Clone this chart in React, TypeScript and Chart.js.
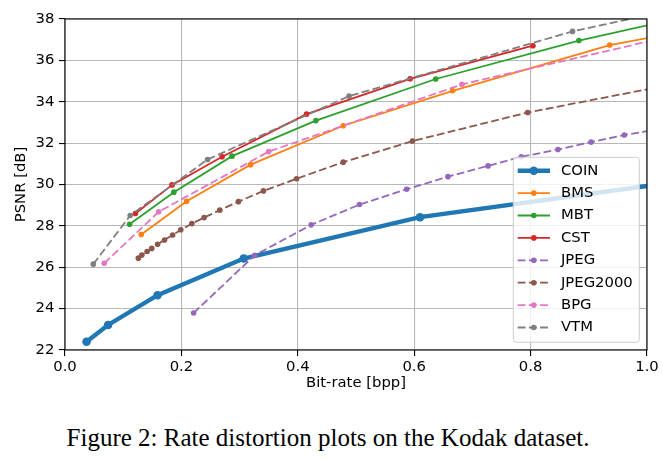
import React, { useEffect, useRef } from 'react';
import { Chart, registerables } from 'chart.js';

Chart.register(...registerables);

// ---- data ----
const xTicks = [0, 0.2, 0.4, 0.6, 0.8, 1.0];
const yTicks = [22, 24, 26, 28, 30, 32, 34, 36, 38];

const coinX = [0.037, 0.074, 0.159, 0.307, 0.61, 1.2];
const coinY = [22.4, 23.21, 24.65, 26.42, 28.42, 30.7];

const bmsX = [0.131, 0.209, 0.319, 0.478, 0.666, 0.936, 1.25];
const bmsY = [27.58, 29.19, 30.96, 32.84, 34.53, 36.74, 38.4];

const mbtX = [0.111, 0.187, 0.287, 0.431, 0.637, 0.883, 1.2];
const mbtY = [28.08, 29.63, 31.37, 33.09, 35.1, 36.96, 38.95];

const cstX = [0.121, 0.184, 0.27, 0.415, 0.593, 0.804];
const cstY = [28.6, 29.98, 31.34, 33.4, 35.11, 36.71];

const jpegX = [0.221, 0.326, 0.423, 0.506, 0.587, 0.658, 0.727, 0.784, 0.847, 0.904, 0.961, 1.03];
const jpegY = [23.79, 26.58, 28.05, 29.03, 29.77, 30.38, 30.9, 31.34, 31.69, 32.05, 32.39, 32.72];

const j2kX = [0.126, 0.132, 0.141, 0.149, 0.159, 0.171, 0.185, 0.199, 0.218, 0.239, 0.266, 0.298, 0.341, 0.398, 0.478, 0.597, 0.795, 1.19];
const j2kY = [26.44, 26.59, 26.76, 26.91, 27.11, 27.32, 27.56, 27.81, 28.11, 28.4, 28.76, 29.17, 29.69, 30.28, 31.08, 32.1, 33.48, 35.64];

const bpgX = [0.0674, 0.161, 0.35, 0.682, 1.3];
const bpgY = [26.19, 28.68, 31.59, 34.84, 38.85];

const vtmX = [0.0486, 0.112, 0.245, 0.488, 0.872, 1.3];
const vtmY = [26.15, 28.5, 31.21, 34.27, 37.4, 40.0];

const seriesNames = ['COIN', 'BMS', 'MBT', 'CST', 'JPEG', 'JPEG2000', 'BPG', 'VTM'];
const seriesX = [coinX, bmsX, mbtX, cstX, jpegX, j2kX, bpgX, vtmX];
const seriesY = [coinY, bmsY, mbtY, cstY, jpegY, j2kY, bpgY, vtmY];

// ---- styles ----
const colors = ['#1f77b4', '#ff7f0e', '#2ca02c', '#d62728', '#9467bd', '#8c564b', '#e377c2', '#7f7f7f'];
const DASH = [7.8, 3.4];
const widths = [4.4, 1.8, 1.8, 1.8, 1.8, 1.8, 1.8, 1.8];
const dashes = [[], [], [], [], DASH, DASH, DASH, DASH];
const radii = [4.3, 2.8, 2.8, 2.8, 2.8, 2.8, 2.8, 2.8];

const FONT = '"DejaVu Sans"';
const FS = 14.8;

const framePlugin = {
  id: 'frameLegend',
  afterDatasetsDraw(chart: any) {
    const { ctx, chartArea: a } = chart;
    ctx.save();
    // spines
    ctx.strokeStyle = '#000';
    ctx.lineWidth = 1.1;
    ctx.setLineDash([]);
    ctx.strokeRect(a.left, a.top, a.right - a.left, a.bottom - a.top);

    // legend
    const bw = 126;
    const bh = 185;
    const bx = a.right - 7.7 - bw;
    const by = a.bottom - 7.7 - bh;
    const r = 3;
    ctx.beginPath();
    ctx.moveTo(bx + r, by);
    ctx.lineTo(bx + bw - r, by);
    ctx.arcTo(bx + bw, by, bx + bw, by + r, r);
    ctx.lineTo(bx + bw, by + bh - r);
    ctx.arcTo(bx + bw, by + bh, bx + bw - r, by + bh, r);
    ctx.lineTo(bx + r, by + bh);
    ctx.arcTo(bx, by + bh, bx, by + bh - r, r);
    ctx.lineTo(bx, by + r);
    ctx.arcTo(bx, by, bx + r, by, r);
    ctx.closePath();
    ctx.fillStyle = 'rgba(255,255,255,0.8)';
    ctx.fill();
    ctx.strokeStyle = '#cccccc';
    ctx.lineWidth = 1;
    ctx.stroke();

    ctx.font = `${FS}px ${FONT}`;
    ctx.textBaseline = 'middle';
    ctx.textAlign = 'left';
    seriesNames.forEach((name, i) => {
      const cy = by + 13.4 + i * 22.4;
      ctx.beginPath();
      ctx.setLineDash(dashes[i]);
      ctx.lineWidth = widths[i];
      ctx.strokeStyle = colors[i];
      ctx.moveTo(bx + 4.4, cy);
      ctx.lineTo(bx + 36.7, cy);
      ctx.stroke();
      ctx.setLineDash([]);
      ctx.beginPath();
      ctx.fillStyle = colors[i];
      ctx.arc(bx + 20.5, cy, radii[i], 0, Math.PI * 2);
      ctx.fill();
      ctx.fillStyle = '#000';
      ctx.fillText(name, bx + 47.7, cy);
    });
    ctx.restore();
  },
};

export default function App() {
  const ref = useRef<HTMLCanvasElement | null>(null);

  useEffect(() => {
    if (!ref.current) return;
    const datasets = seriesNames.map((name, i) => ({
      label: name,
      data: seriesX[i].map((x, k) => ({ x, y: seriesY[i][k] })),
      borderColor: colors[i],
      backgroundColor: colors[i],
      borderWidth: widths[i],
      borderDash: dashes[i],
      pointRadius: radii[i],
      pointBorderWidth: 0,
      pointBackgroundColor: colors[i],
      pointHoverRadius: radii[i],
      tension: 0,
      fill: false,
      clip: 0,
      order: seriesNames.length - i,
    }));

    const chart = new Chart(ref.current, {
      type: 'line',
      data: { datasets },
      plugins: [framePlugin],
      options: {
        animation: false,
        responsive: false,
        devicePixelRatio: 1,
        layout: { padding: { left: 0, top: 19, right: 16, bottom: 0 } },
        plugins: { legend: { display: false }, tooltip: { enabled: false } },
        scales: {
          x: {
            type: 'linear',
            min: 0,
            max: 1,
            afterBuildTicks: (s: any) => {
              s.ticks = xTicks.map((v) => ({ value: v }));
            },
            afterFit: (s: any) => {
              s.height = 50;
            },
            ticks: {
              autoSkip: false,
              maxRotation: 0,
              padding: 2.5,
              color: '#000',
              font: { family: FONT, size: FS },
              callback: (v: any) => Number(v).toFixed(1),
            },
            grid: { color: '#b8b8b8', lineWidth: 1.1, tickColor: '#000', tickLength: 6, tickWidth: 1.1 },
            border: { display: false },
            title: {
              display: true,
              text: 'Bit-rate [bpp]',
              color: '#000',
              font: { family: FONT, size: FS },
              padding: { top: 0, bottom: 7.5 },
            },
          },
          y: {
            type: 'linear',
            min: 22,
            max: 38,
            afterBuildTicks: (s: any) => {
              s.ticks = yTicks.map((v) => ({ value: v }));
            },
            afterFit: (s: any) => {
              s.width = 65;
            },
            ticks: {
              autoSkip: false,
              padding: 4.7,
              color: '#000',
              font: { family: FONT, size: FS },
              callback: (v: any) => String(v),
            },
            grid: { color: '#b8b8b8', lineWidth: 1.1, tickColor: '#000', tickLength: 6, tickWidth: 1.1 },
            border: { display: false },
            title: {
              display: true,
              text: 'PSNR [dB]',
              color: '#000',
              font: { family: FONT, size: FS },
              padding: { top: 12.1, bottom: 0 },
            },
          },
        },
      },
    } as any);
    return () => chart.destroy();
  }, []);

  return (
    <div style={{ position: 'absolute', left: 0, top: 0, width: 663, height: 460, background: '#fff' }}>
      <canvas ref={ref} width={663} height={400} style={{ display: 'block', width: 663, height: 400 }} />
      <div
        style={{
          position: 'absolute',
          left: 0,
          top: 425,
          width: 656,
          textAlign: 'center',
          fontFamily: '"Liberation Serif", "Times New Roman", serif',
          fontSize: 25,
          lineHeight: '25px',
          color: '#000',
        }}
      >
        Figure 2: Rate distortion plots on the Kodak dataset.
      </div>
    </div>
  );
}
